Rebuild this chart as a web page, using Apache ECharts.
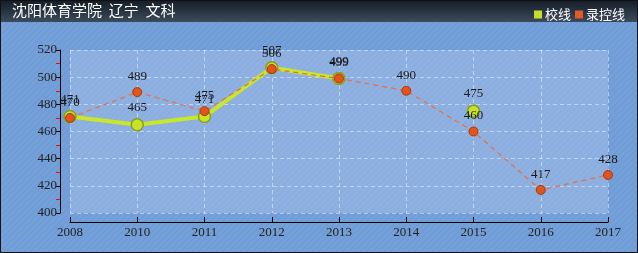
<!DOCTYPE html>
<html><head><meta charset="utf-8">
<script src="https://cdn.jsdelivr.net/npm/echarts@6/dist/echarts.min.js"></script>
<style>html,body{margin:0;padding:0;background:#6f9bd6}#c{width:638px;height:253px}</style>
</head><body><div id="c"></div>
<script>
var titleText = '沈阳体育学院  辽宁  文科';
var categories = ['2008','2010','2011','2012','2013','2014','2015','2016','2017'];
var schoolLine = [471, 465, 471, 507, 499, null, 475, null, null];
var controlLine = [470, 489, 475, 506, 499, 490, 460, 417, 428];
var yTicks = [400, 420, 440, 460, 480, 500, 520];

function hatch(base, line, alpha) {
  var c = document.createElement('canvas'); c.width = 6; c.height = 6;
  var g = c.getContext('2d');
  g.fillStyle = base; g.fillRect(0,0,6,6);
  g.strokeStyle = line; g.globalAlpha = alpha; g.lineWidth = 1;
  g.beginPath(); g.moveTo(0,6); g.lineTo(6,0); g.moveTo(-3,3); g.lineTo(3,-3); g.moveTo(3,9); g.lineTo(9,3); g.stroke();
  return {image: c, repeat: 'repeat'};
}

var chart = echarts.init(document.getElementById('c'), null, {renderer:'canvas'});
var font = '"Liberation Serif","DejaVu Serif",serif';
chart.setOption({
  backgroundColor: hatch('#74a0d9', '#5f88c0', 0.35),
  animation: false,
  graphic: [
    {type:'rect', shape:{x:0, y:0, width:638, height:22}, z:10,
     style:{fill:new echarts.graphic.LinearGradient(0,0,0,1,[{offset:0,color:'#141c26'},{offset:1,color:'#3c4b5c'}])}},
    {type:'text', x:12, y:3, z:11, style:{text:titleText, fill:'#ffffff', font:'15px "Noto Sans CJK SC"'}},
    {type:'rect', shape:{x:0.5, y:0.5, width:637, height:252}, z:12, silent:true,
     style:{fill:null, stroke:'#111', lineWidth:1}}
  ],
  legend: {
    right: 8, top: 3, itemWidth: 8, itemHeight: 8, itemGap: 4, z: 12,
    icon: 'rect',
    textStyle: {color:'#fff', fontSize:13, fontFamily:'"Noto Sans CJK SC"', padding:[0,0,0,-2]},
    data: [{name:'校线', itemStyle:{color:'#c4e02c', borderWidth:0}}, {name:'录控线', itemStyle:{color:'#e35a22', borderWidth:0}}]
  },
  grid: {left:70, right:30, top:50, bottom:40, show:true, backgroundColor: hatch('#8fb1e1', '#7f9fd0', 0.3), borderWidth:0},
  xAxis: {
    type:'category', data:categories, boundaryGap:false, offset:9,
    axisLine:{lineStyle:{color:'#000', width:1}},
    axisTick:{show:true, alignWithLabel:true, length:5, inside:true, lineStyle:{color:'#000'}},
    axisLabel:{color:'#222', fontFamily:font, fontSize:13, margin:4},
    splitLine:{show:true, lineStyle:{color:'rgba(230,240,255,0.55)', type:[4,3]}}
  },
  yAxis: {
    type:'value', min:400, max:520, interval:20, offset:10,
    axisLine:{show:true, lineStyle:{color:'#000', width:1}},
    axisTick:{show:true, length:4, lineStyle:{color:'#000'}},
    minorTick:{show:true, splitNumber:2, length:4, lineStyle:{color:'#ff0000'}},
    axisLabel:{color:'#222', fontFamily:font, fontSize:13, margin:3,
      formatter:function(v){return yTicks.indexOf(v)>=0 ? String(v) : '';}},
    splitLine:{show:true, lineStyle:{color:'rgba(230,240,255,0.55)', type:[4,3]}}
  },
  series: [
    {name:'校线', type:'line', data:schoolLine, connectNulls:false, symbol:'circle', symbolSize:12, showSymbol:true,
     lineStyle:{color:'#c8e62a', width:4},
     itemStyle:{color:'#c8e02e', borderColor:'#88a01c', borderWidth:1.5},
     label:{show:true, position:'top', distance:4, color:'#1a1a1a', fontFamily:font, fontSize:13}, z:2},
    {name:'录控线', type:'line', data:controlLine, symbol:'circle', symbolSize:9,
     lineStyle:{color:'#e0734f', width:1.3, type:[5,4]},
     itemStyle:{color:'#e2541c', borderColor:'#a8380c', borderWidth:1},
     label:{show:true, position:'top', distance:4, color:'#1a1a1a', fontFamily:font, fontSize:13}, z:3}
  ]
});
</script></body></html>
